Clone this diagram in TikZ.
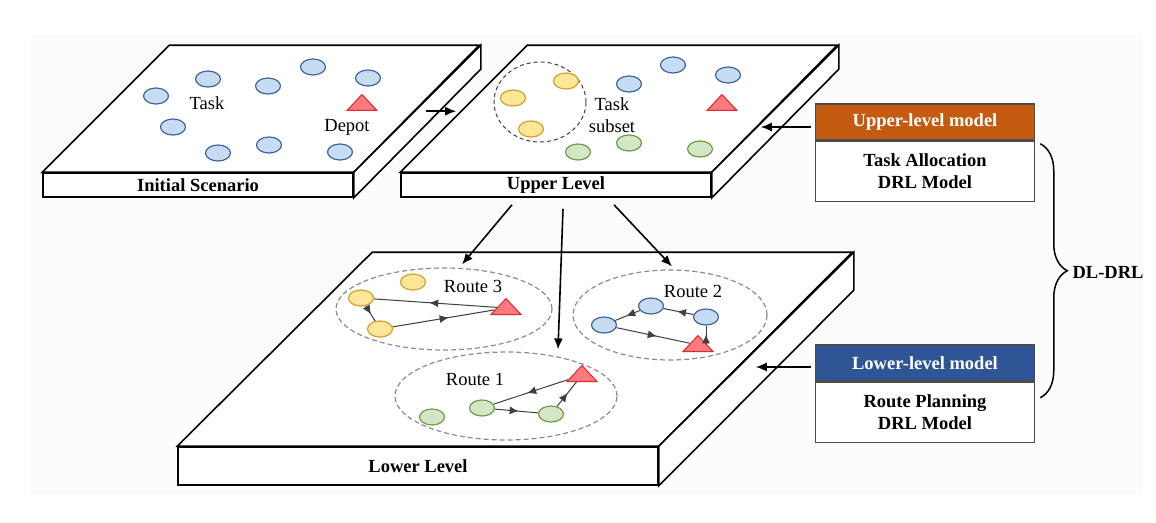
\documentclass[tikz,border=0pt]{standalone}
\usepackage{fontspec}
\setmainfont{Liberation Serif}
\usetikzlibrary{shapes.geometric,positioning,calc,arrows.meta,decorations.markings,decorations.pathreplacing}

\definecolor{taskblue}{HTML}{C5DCF2}
\definecolor{taskbluedk}{HTML}{41649E}
\definecolor{subyellow}{HTML}{FFE699}
\definecolor{subyellowdk}{HTML}{D4A12A}
\definecolor{subgreen}{HTML}{D3E6C6}
\definecolor{subgreendk}{HTML}{6E9C45}
\definecolor{depotred}{HTML}{FF7A7E}
\definecolor{depotreddk}{HTML}{E0282E}
\definecolor{hdorange}{HTML}{C55A11}
\definecolor{hdblue}{HTML}{2F5597}

\begin{document}
\begin{tikzpicture}[x=1pt,y=-1pt,font=\fontsize{18.5}{22}\selectfont,
 face/.style={draw,line width=1.6pt,fill=white,font=\fontsize{18.5}{22}\selectfont\bfseries,inner sep=0pt},
 slab/.style={draw,line width=1.6pt,fill=white,line join=miter},
 tk/.style={ellipse,draw=taskbluedk,fill=taskblue,line width=1.2pt,minimum width=25pt,minimum height=16pt,inner sep=0pt},
 yk/.style={tk,draw=subyellowdk,fill=subyellow},
 gk/.style={tk,draw=subgreendk,fill=subgreen},
 depot/.style={isosceles triangle,isosceles triangle stretches,shape border rotate=90,draw=depotreddk,fill=depotred,line width=1pt,minimum width=30pt,minimum height=16pt,inner sep=0pt},
 grp/.style={ellipse,draw=black!45,dash pattern=on 5pt off 3pt,line width=1.2pt,inner sep=0pt},
 rt/.style={black!75,line width=1pt,postaction={decorate},decoration={markings,mark=at position 0.55 with {\arrow{Latex[length=9pt,width=8pt]}}}},
 ar/.style={-{Latex[length=11pt,width=9pt]},line width=1.6pt},
 hd/.style={draw=black!70,line width=1.5pt,minimum width=219pt,minimum height=36pt,text=white,font=\fontsize{18.5}{22}\selectfont\bfseries},
 bd/.style={draw=black!70,line width=1.5pt,fill=white,minimum width=219pt,minimum height=60pt,align=center,font=\fontsize{18.5}{22}\selectfont\bfseries}]
\useasboundingbox (0,0) rectangle (1156,522);
\fill[black!1] (30,35) rectangle (1143,495);

% lower level plate
\node[face,minimum width=480pt,minimum height=38pt] (low) at (418,466) {Lower Level};
\draw[slab] (low.north west) -- ++(195,-194) -- ++(480,0) -- (low.north east) -- cycle;
\draw[slab] (low.north east) -- ++(195,-194) -- ++(0,38) -- (low.south east) -- cycle;

% initial scenario plate
\node[face,minimum width=310pt,minimum height=24pt] (init) at (198,185) {Initial Scenario};
\draw[slab] (init.north west) -- ++(127,-127) -- ++(310,0) -- (init.north east) -- cycle;
\draw[slab] (init.north east) -- ++(127,-127) -- ++(0,24) -- (init.south east) -- cycle;
\node[tk] (a1) at (156,96) {};
\node[tk] (a2) at (208,79) {};
\node[tk] (a3) at (268,86) {};
\node[tk] (a4) at (313,67) {};
\node[tk] (a5) at (368,78) {};
\node[tk] (a6) at (173,127) {};
\node[tk] (a7) at (218,153) {};
\node[tk] (a8) at (269,145) {};
\node[tk] (a9) at (340,152) {};
\node[depot] (d0) at (362,104) {};
\node (tasklbl) at (207,103) {Task};
\node (depotlbl) at (347,127) {Depot};

% upper level plate
\node[face,minimum width=310pt,minimum height=24pt] (up) at (556,185) {Upper Level};
\draw[slab] (up.north west) -- ++(127,-127) -- ++(310,0) -- (up.north east) -- cycle;
\draw[slab] (up.north east) -- ++(127,-127) -- ++(0,24) -- (up.south east) -- cycle;
\node[ellipse,draw=black!75,dash pattern=on 4pt off 3pt,line width=1pt,minimum width=92pt,minimum height=80pt] (sub) at (540,102) {};
\node[yk] (uy1) at (566,81) {};
\node[yk] (uy2) at (513,98) {};
\node[yk] (uy3) at (531,129) {};
\node[tk] (ub1) at (629,84) {};
\node[tk] (ub2) at (673,65) {};
\node[tk] (ub3) at (728,75) {};
\node[gk] (ug1) at (578,152) {};
\node[gk] (ug2) at (629,143) {};
\node[gk] (ug3) at (700,149) {};
\node[depot] (ud) at (722,104) {};
\node[align=center] (sublbl) at (612,115) {Task\\subset};

\draw[ar] ($(init.north east)+(72,-61)$) -- ($(up.north west)+(56,-61)$);

% routes on the lower level
\node[grp,minimum width=216pt,minimum height=82pt] (r3) at (444,309) {};
\node[yk] (s3a) at (413,282) {};
\node[yk] (s3b) at (361,298) {};
\node[yk] (s3c) at (380,329) {};
\node[depot] (d3) at (506,308) {};
\node (l3) at (473,286) {Route 3};
\draw[rt] (d3) -- (s3b);
\draw[rt] (s3b) -- (s3c);
\draw[rt] (s3c) -- (d3);

\node[grp,minimum width=222pt,minimum height=88pt] (r1) at (506,396) {};
\node[gk] (g1a) at (432,417) {};
\node[gk] (g1b) at (482,408) {};
\node[gk] (g1c) at (551,414) {};
\node[depot] (d1) at (582,375) {};
\node (l1) at (475,379) {Route 1};
\draw[rt] (g1b) -- (g1c);
\draw[rt] (g1c) -- (d1);
\draw[rt] (d1) -- (g1b);

\node[grp,minimum width=194pt,minimum height=90pt] (r2) at (670,315) {};
\node[tk] (b2a) at (604,325) {};
\node[tk] (b2b) at (651,306) {};
\node[tk] (b2c) at (706,317) {};
\node[depot] (d2) at (698,345) {};
\node (l2) at (693,291) {Route 2};
\draw[rt] (b2a) -- (d2);
\draw[rt] ([xshift=8pt]d2.center) -- (b2c);
\draw[rt] (b2c) -- (b2b);
\draw[rt] (b2b) -- (b2a);

\draw[ar] ([xshift=-44pt,yshift=-7pt]up.south) -- ([xshift=18pt,yshift=3pt]r3.north);
\draw[ar] ([xshift=7pt,yshift=-11pt]up.south) -- ([xshift=52pt,yshift=2pt]r1.north);
\draw[ar] ([xshift=58pt,yshift=-7pt]up.south) -- ([xshift=2pt,yshift=3pt]r2.north);

% model boxes
\node[hd,fill=hdorange] (ulh) at (925,122) {Upper-level model};
\node[bd,below=0pt of ulh] (ulb) {Task Allocation\\DRL Model};
\node[hd,fill=hdblue] (llh) at (925,363) {Lower-level model};
\node[bd,below=0pt of llh] (llb) {Route Planning\\DRL Model};
\draw[ar] ([xshift=-4pt,yshift=-5pt]ulh.west) -- ++(-50,0);
\draw[ar] ([xshift=-4pt,yshift=-4pt]llh.west) -- ++(-55,0);

\draw[line width=1.5pt,decorate,decoration={brace,amplitude=27pt}] ($(ulb.north east)+(5,3)$) -- ($(llb.north east)+(5,16)$);
\node[font=\fontsize{18.5}{22}\selectfont\bfseries] (dl) at (1108,272) {DL-DRL};
\end{tikzpicture}
\end{document}
